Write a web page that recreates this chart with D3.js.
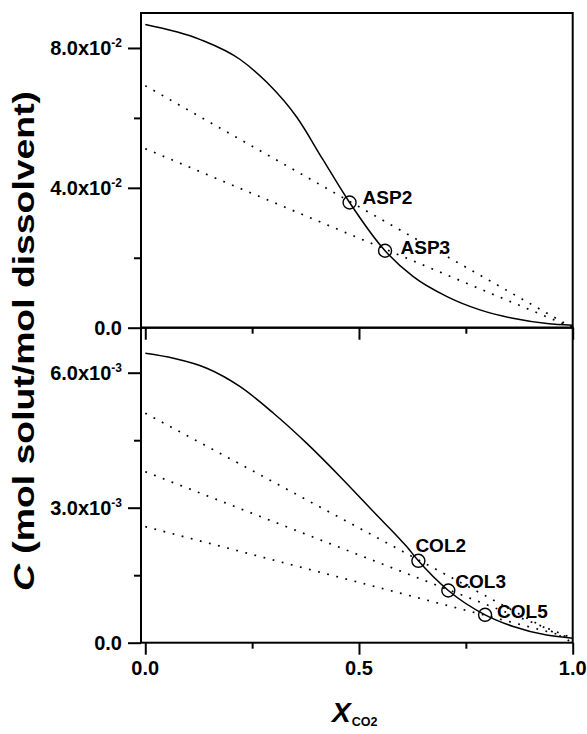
<!DOCTYPE html>
<html><head><meta charset="utf-8">
<script src="https://cdn.jsdelivr.net/npm/d3@7"></script>
<style>html,body{margin:0;padding:0;background:#fff;} svg{display:block;font-family:"Liberation Sans",Arial,sans-serif;}</style>
</head><body><svg id="chart" width="587" height="734"></svg>
<script>
// ---------- data ----------
const xMajorTicks = [0, 0.5, 1.0];
const xMinorTicks = [0.25, 0.75];
const xTickLabels = ["0.0", "0.5", "1.0"];

const topMajorTicks = [0, 0.04, 0.08];
const topMinorTicks = [0.02, 0.06];
const topTickMantissa = ["0.0", "4.0x10", "8.0x10"];
const topTickExponent = ["", "-2", "-2"];

const botMajorTicks = [0, 0.003, 0.006];
const botMinorTicks = [0.0015, 0.0045];
const botTickMantissa = ["0.0", "3.0x10", "6.0x10"];
const botTickExponent = ["", "-3", "-3"];

// solubility curves (x_CO2, C)
const topCurveX = [0, 0.129, 0.222, 0.285, 0.355, 0.415, 0.478, 0.561, 0.627, 0.706, 0.783, 0.860, 0.940, 1.0];
const topCurveY = [0.0867, 0.0824, 0.0767, 0.0701, 0.0601, 0.0482, 0.0358, 0.0220, 0.0146, 0.0089, 0.0051, 0.0027, 0.0012, 0.0007];

const botCurveX = [0, 0.066, 0.144, 0.222, 0.300, 0.378, 0.456, 0.534, 0.612, 0.639, 0.709, 0.795, 0.861, 0.939, 1.0];
const botCurveY = [0.00643, 0.00632, 0.00610, 0.00569, 0.00510, 0.00443, 0.00369, 0.00291, 0.00213, 0.00182, 0.00116, 0.00062, 0.00036, 0.00017, 0.0001];

// operating (dotted) lines: start at x=0, end at x=1
const topLineStart = [0.0692, 0.0512];
const topLineEnd = [0, 0];
const botLineStart = [0.0051, 0.0038, 0.00258];
const botLineEnd = [0.0, 0.0001, 0.0001];

// marked points
const topPointNames = ["ASP2", "ASP3"];
const topPointX = [0.478, 0.561];
const topPointY = [0.0358, 0.0220];
const botPointNames = ["COL2", "COL3", "COL5"];
const botPointX = [0.639, 0.709, 0.795];
const botPointY = [0.00182, 0.00116, 0.00062];

// ---------- layout / style ----------
const topLabelOffset = [[13, 1.5], [15.5, 3.5]];
const botLabelOffset = [[-3, -9], [7, -3], [12, 3]];

const svg = d3.select("#chart");
const x = d3.scaleLinear().domain([-0.01, 1.0]).range([141, 572.7]);
const yTop = d3.scaleLinear().domain([0, 0.09]).range([327.7, 13]);
const yBot = d3.scaleLinear().domain([0, 0.007]).range([642.7, 327.7]);

function panel(y, majors, minors, mant, expo, curveX, curveY, lStart, lEnd, pX, pY, pNames, offs) {
  const g = svg.append("g");
  const ya = g.append("g").attr("transform", `translate(${x(-0.01)},0)`)
    .call(d3.axisLeft(y).tickValues(majors).tickSize(13).tickFormat(""));
  const yb = g.append("g").attr("transform", `translate(${x(-0.01)},0)`)
    .call(d3.axisLeft(y).tickValues(minors).tickSize(7).tickFormat(""));
  const xa = g.append("g").attr("transform", `translate(0,${y(0)})`)
    .call(d3.axisBottom(x).tickValues(xMajorTicks).tickSize(12).tickFormat(""));
  const xb = g.append("g").attr("transform", `translate(0,${y(0)})`)
    .call(d3.axisBottom(x).tickValues(xMinorTicks).tickSize(6).tickFormat(""));
  [ya, yb, xa, xb].forEach(a => {
    a.select(".domain").remove();
    a.selectAll("line").attr("stroke", "#000").attr("stroke-width", 2);
  });
  const d = y.domain();
  g.append("rect")
    .attr("x", x(-0.01)).attr("y", y(d[1]))
    .attr("width", x(1) - x(-0.01)).attr("height", y(d[0]) - y(d[1]))
    .attr("fill", "none").attr("stroke", "#000").attr("stroke-width", 2);
  majors.forEach((v, i) => {
    const t = g.append("text").attr("x", 122).attr("y", y(v) + 7)
      .attr("text-anchor", "end").attr("font-size", 20).attr("font-weight", "bold");
    t.append("tspan").text(mant[i]);
    if (expo[i]) t.append("tspan").attr("font-size", 12).attr("dy", -7.5).text(expo[i]);
  });
  lStart.forEach((s, i) => {
    g.append("line")
      .attr("x1", x(0)).attr("y1", y(s))
      .attr("x2", x(1)).attr("y2", y(lEnd[i]))
      .attr("stroke", "#000").attr("stroke-width", 1.7)
      .attr("stroke-dasharray", "1.8,7.6");
  });
  const pts = curveX.map((v, i) => [v, curveY[i]]);
  g.append("path").datum(pts)
    .attr("d", d3.line().x(p => x(p[0])).y(p => y(p[1])).curve(d3.curveMonotoneX))
    .attr("fill", "none").attr("stroke", "#000").attr("stroke-width", 1.5);
  pX.forEach((v, i) => {
    g.append("circle").attr("cx", x(v)).attr("cy", y(pY[i])).attr("r", 6.5)
      .attr("fill", "none").attr("stroke", "#000").attr("stroke-width", 1.4);
    g.append("text").attr("x", x(v) + offs[i][0]).attr("y", y(pY[i]) + offs[i][1])
      .attr("font-size", 19).attr("font-weight", "bold").text(pNames[i]);
  });
}

panel(yTop, topMajorTicks, topMinorTicks, topTickMantissa, topTickExponent,
  topCurveX, topCurveY, topLineStart, topLineEnd, topPointX, topPointY, topPointNames, topLabelOffset);
panel(yBot, botMajorTicks, botMinorTicks, botTickMantissa, botTickExponent,
  botCurveX, botCurveY, botLineStart, botLineEnd, botPointX, botPointY, botPointNames, botLabelOffset);

xMajorTicks.forEach((v, i) => {
  svg.append("text").attr("x", x(v)).attr("y", 675).attr("text-anchor", "middle")
    .attr("font-size", 20).attr("font-weight", "bold").text(xTickLabels[i]);
});

const xt = svg.append("text").attr("x", 332).attr("y", 722).attr("font-weight", "bold");
xt.append("tspan").attr("font-size", 28).attr("font-style", "italic").text("X");
xt.append("tspan").attr("font-size", 12.5).attr("dy", 4).attr("dx", 1).text("CO2");

const yt = svg.append("text").attr("transform", "translate(33.5,341) rotate(-90)")
  .attr("text-anchor", "middle").attr("font-size", 29).attr("font-weight", "bold")
  .attr("textLength", 500).attr("lengthAdjust", "spacingAndGlyphs");
yt.append("tspan").attr("font-style", "italic").text("C");
yt.append("tspan").text(" (mol solut/mol dissolvent)");
</script></body></html>
